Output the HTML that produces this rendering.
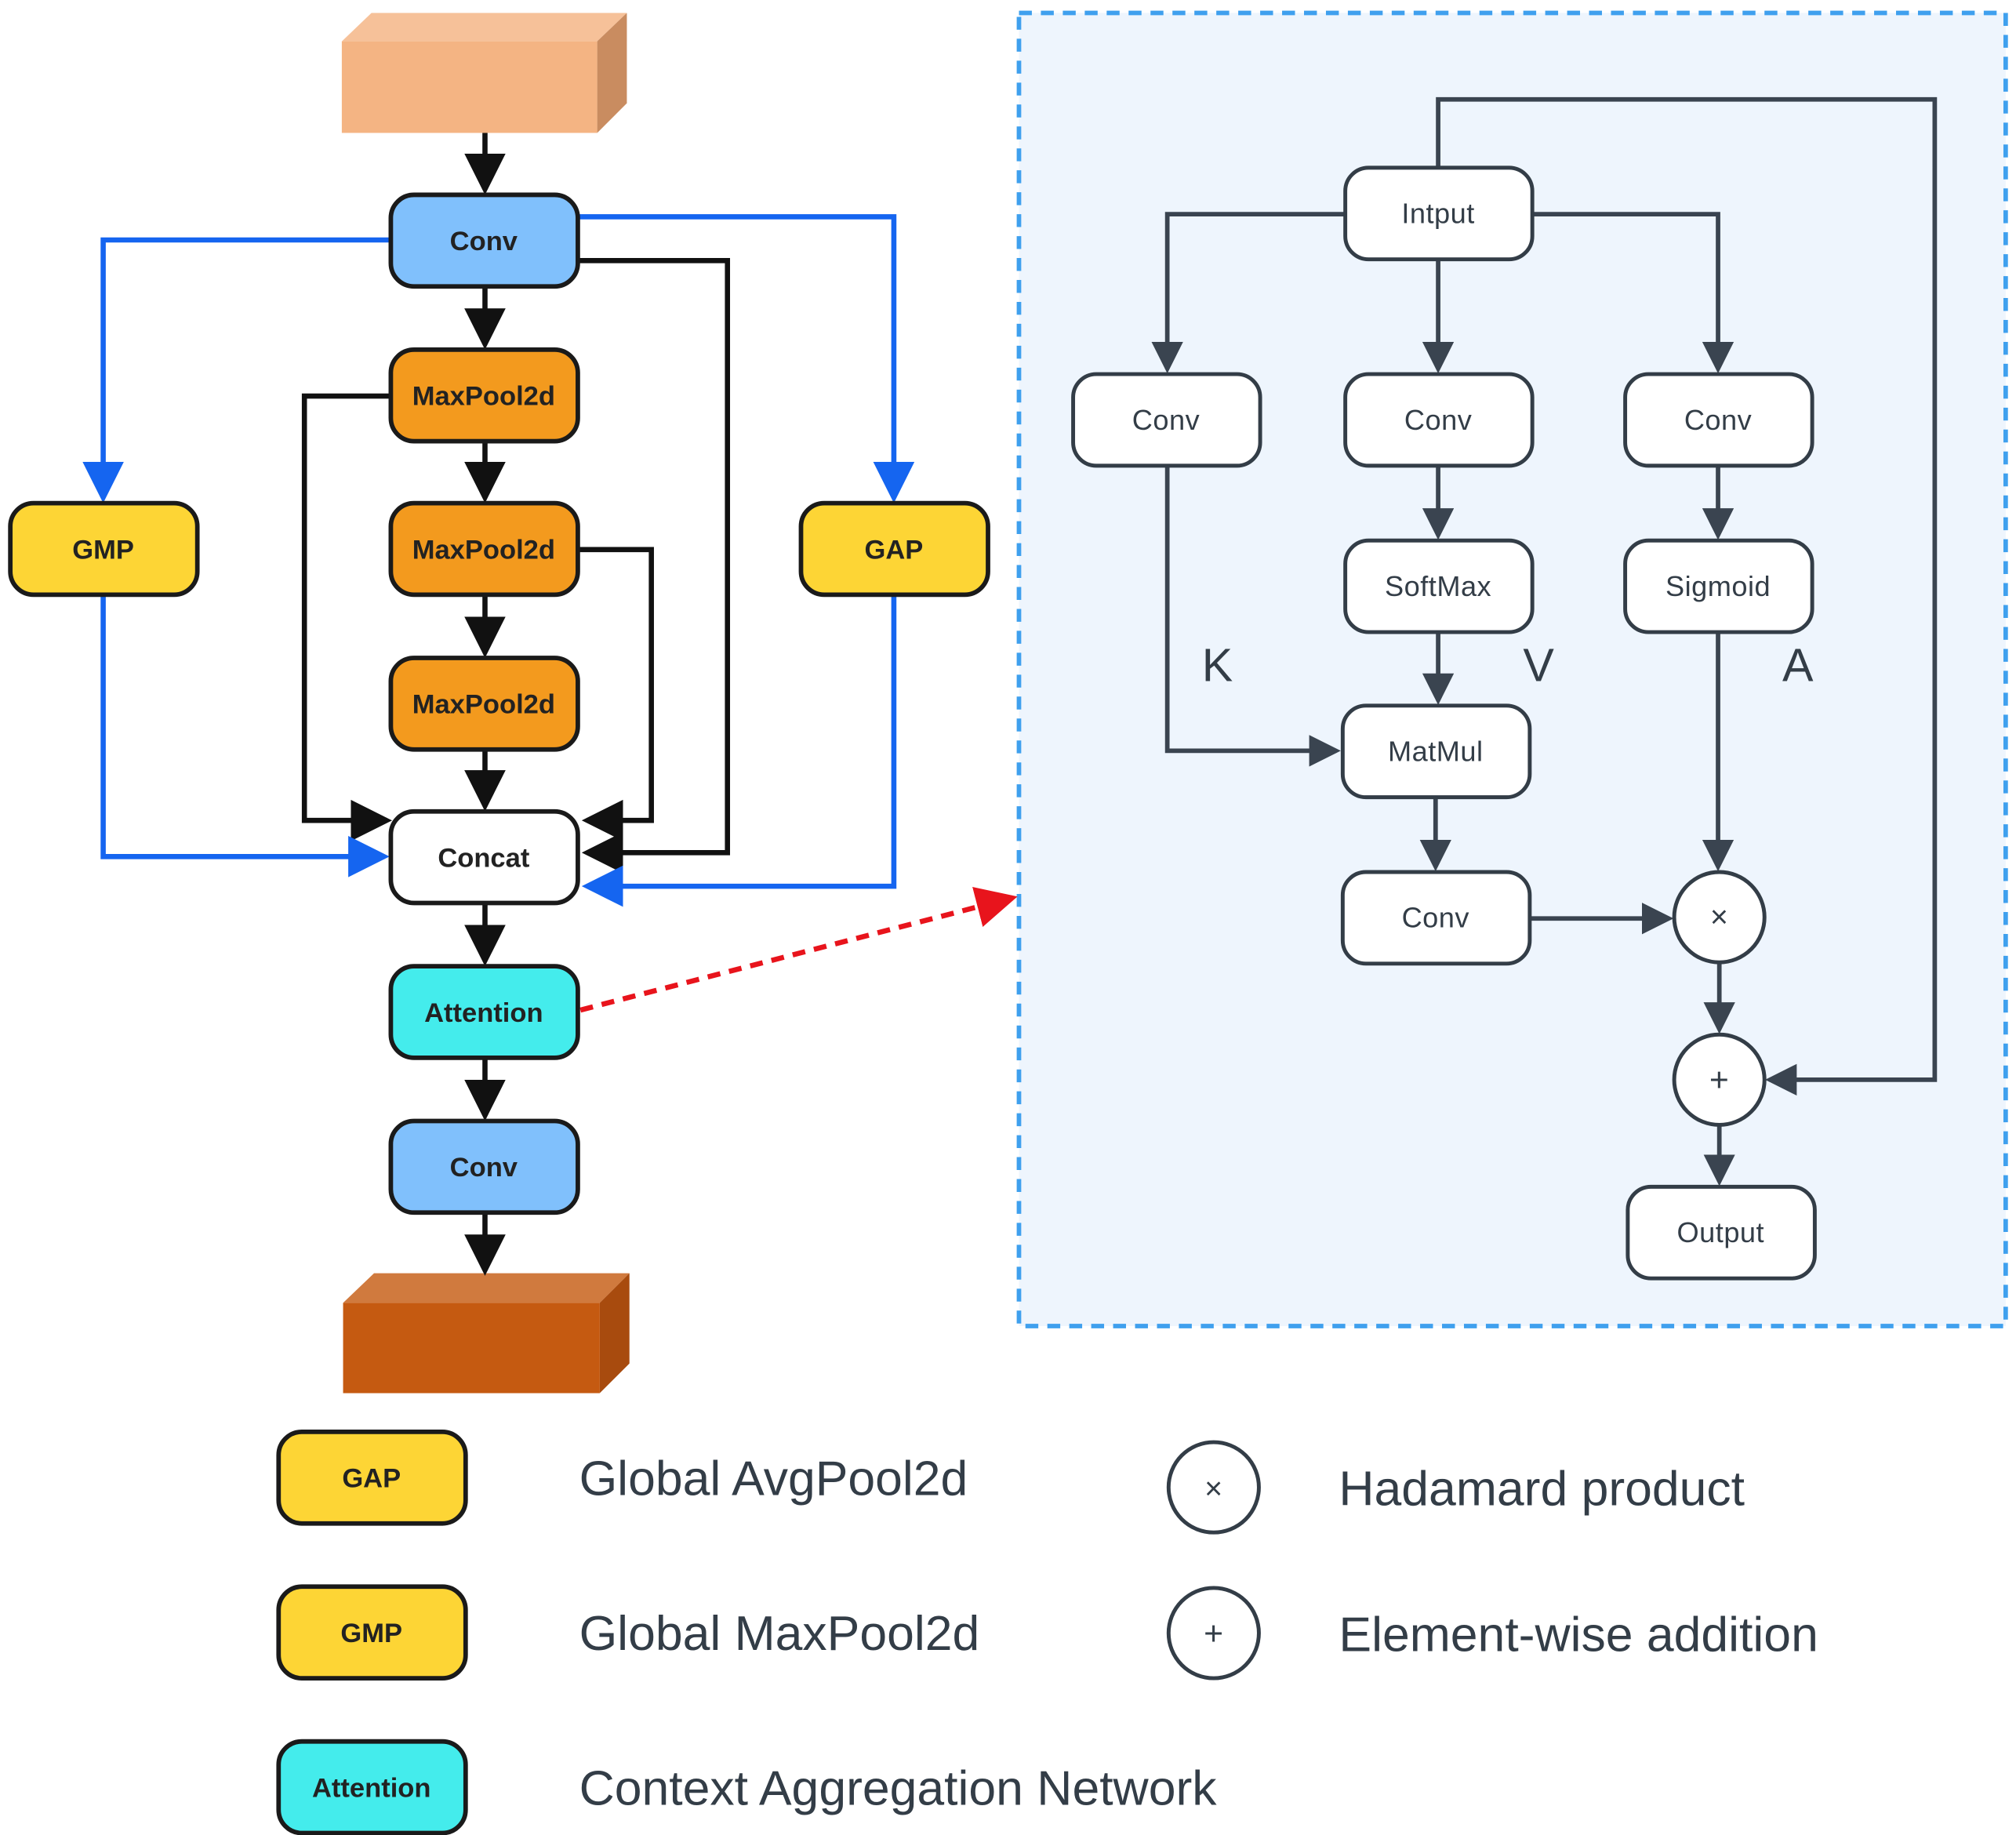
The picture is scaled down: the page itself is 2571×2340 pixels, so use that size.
<!DOCTYPE html>
<html><head><meta charset="utf-8"><style>
html,body{margin:0;padding:0;background:#fff;}
svg{display:block;}
text{font-family:"Liberation Sans",sans-serif;}
</style></head><body>
<svg width="2571" height="2340" viewBox="0 0 1563 1422.5" xmlns="http://www.w3.org/2000/svg">
<defs>
<marker id="ak" markerWidth="8" markerHeight="8" refX="7" refY="4" orient="auto" markerUnits="strokeWidth"><path d="M0,0 L8,4 L0,8 z" fill="#111"/></marker>
<marker id="ab" markerWidth="8" markerHeight="8" refX="7" refY="4" orient="auto" markerUnits="strokeWidth"><path d="M0,0 L8,4 L0,8 z" fill="#1565f0"/></marker>
<marker id="ag" markerWidth="7" markerHeight="7" refX="6" refY="3.5" orient="auto" markerUnits="strokeWidth"><path d="M0,0 L7,3.5 L0,7 z" fill="#3a4450"/></marker>
<marker id="ar" markerWidth="8" markerHeight="8" refX="7" refY="4" orient="auto" markerUnits="strokeWidth"><path d="M0,0 L8,4 L0,8 z" fill="#e8141c"/></marker>
</defs>

<rect x="790" y="10" width="765" height="1018" fill="#eef5fd" stroke="#3fa0ee" stroke-width="3.5" stroke-dasharray="10,7"/>

<polygon points="265,32 288,10 486,10 463,32" fill="#f6c199"/>
<polygon points="463,32 486,10 486,80 463,103" fill="#c98c60"/>
<rect x="265" y="32" width="198" height="71" fill="#f4b483"/>
<polygon points="266,1010 290,987 488,987 465,1010" fill="#d07a3e"/>
<polygon points="465,1010 488,987 488,1057 465,1080" fill="#a84b0e"/>
<rect x="266" y="1010" width="199" height="70" fill="#c55a11"/>

<g fill="none" stroke-width="4">
<g stroke="#111" marker-end="url(#ak)">
<line x1="376" y1="103" x2="376" y2="147"/>
<line x1="376" y1="222" x2="376" y2="267"/>
<line x1="376" y1="342" x2="376" y2="386"/>
<line x1="376" y1="461" x2="376" y2="506"/>
<line x1="376" y1="581" x2="376" y2="625"/>
<line x1="376" y1="700" x2="376" y2="745"/>
<line x1="376" y1="820" x2="376" y2="865"/>
<line x1="376" y1="940" x2="376" y2="985"/>
<polyline points="448,202 564,202 564,661 455,661"/>
<polyline points="303,307 236,307 236,636 300,636"/>
<polyline points="448,426 505,426 505,636 455,636"/>
</g>
<g stroke="#1565f0" marker-end="url(#ab)">
<polyline points="303,186 80,186 80,386"/>
<polyline points="80,461 80,664 298,664"/>
<polyline points="448,168 693,168 693,386"/>
<polyline points="693,461 693,687 455,687"/>
</g>
<line x1="450" y1="783" x2="785" y2="696" stroke="#e8141c" stroke-dasharray="10,7" marker-end="url(#ar)"/>
</g>

<g fill="none" stroke="#3a4450" stroke-width="3.5" marker-end="url(#ag)">
<polyline points="1115,130 1115,77 1500,77 1500,837 1372,837"/>
<polyline points="1043,166 905,166 905,286"/>
<polyline points="1188,166 1332,166 1332,286"/>
<line x1="1115" y1="201" x2="1115" y2="286"/>
<line x1="1115" y1="361" x2="1115" y2="415"/>
<line x1="1115" y1="490" x2="1115" y2="543"/>
<polyline points="905,361 905,582 1036,582"/>
<line x1="1332" y1="361" x2="1332" y2="415"/>
<line x1="1332" y1="490" x2="1332" y2="672"/>
<line x1="1113" y1="618" x2="1113" y2="672"/>
<line x1="1186" y1="712" x2="1294" y2="712"/>
<line x1="1333" y1="746" x2="1333" y2="798"/>
<line x1="1333" y1="872" x2="1333" y2="916"/>
</g>

<g stroke="#1a1a1a" stroke-width="3.5">
<rect x="303" y="151" width="145" height="71" rx="18" fill="#80c0fc"/>
<rect x="303" y="271" width="145" height="71" rx="18" fill="#f39a1e"/>
<rect x="303" y="390" width="145" height="71" rx="18" fill="#f39a1e"/>
<rect x="303" y="510" width="145" height="71" rx="18" fill="#f39a1e"/>
<rect x="303" y="629" width="145" height="71" rx="18" fill="#fff"/>
<rect x="303" y="749" width="145" height="71" rx="18" fill="#44ecec"/>
<rect x="303" y="869" width="145" height="71" rx="18" fill="#80c0fc"/>
<rect x="8" y="390" width="145" height="71" rx="18" fill="#fdd535"/>
<rect x="621" y="390" width="145" height="71" rx="18" fill="#fdd535"/>
<rect x="216" y="1110" width="145" height="71" rx="18" fill="#fdd535"/>
<rect x="216" y="1230" width="145" height="71" rx="18" fill="#fdd535"/>
<rect x="216" y="1350" width="145" height="71" rx="18" fill="#44ecec"/>
</g>
<g font-size="21" font-weight="bold" text-anchor="middle" fill="#222">
<text x="375" y="194">Conv</text>
<text x="375" y="314">MaxPool2d</text>
<text x="375" y="433">MaxPool2d</text>
<text x="375" y="553">MaxPool2d</text>
<text x="375" y="672">Concat</text>
<text x="375" y="792">Attention</text>
<text x="375" y="912">Conv</text>
<text x="80" y="433">GMP</text>
<text x="693" y="433">GAP</text>
<text x="288" y="1153">GAP</text>
<text x="288" y="1273">GMP</text>
<text x="288" y="1393">Attention</text>
</g>

<g stroke="#333d47" stroke-width="3" fill="#fff">
<rect x="1043" y="130" width="145" height="71" rx="18"/>
<rect x="832" y="290" width="145" height="71" rx="18"/>
<rect x="1043" y="290" width="145" height="71" rx="18"/>
<rect x="1260" y="290" width="145" height="71" rx="18"/>
<rect x="1043" y="419" width="145" height="71" rx="18"/>
<rect x="1260" y="419" width="145" height="71" rx="18"/>
<rect x="1041" y="547" width="145" height="71" rx="18"/>
<rect x="1041" y="676" width="145" height="71" rx="18"/>
<rect x="1262" y="920" width="145" height="71" rx="18"/>
<circle cx="1333" cy="711" r="35"/>
<circle cx="1333" cy="837" r="35"/>
<circle cx="941" cy="1153" r="35"/>
<circle cx="941" cy="1266" r="35"/>
</g>
<g font-size="22" text-anchor="middle" fill="#333d47" letter-spacing="0.3">
<text x="1115" y="173">Intput</text>
<text x="904" y="333">Conv</text>
<text x="1115" y="333">Conv</text>
<text x="1332" y="333">Conv</text>
<text x="1115" y="462">SoftMax</text>
<text x="1332" y="462">Sigmoid</text>
<text x="1113" y="590">MatMul</text>
<text x="1113" y="719">Conv</text>
<text x="1334" y="963">Output</text>
<text x="1333" y="719" font-size="24">×</text>
<text x="1333" y="846" font-size="26">+</text>
<text x="941" y="1162" font-size="24">×</text>
<text x="941" y="1275" font-size="26">+</text>
<text x="944" y="528" font-size="36">K</text>
<text x="1193" y="528" font-size="36">V</text>
<text x="1394" y="528" font-size="36">A</text>
</g>

<g font-size="38" fill="#333d47">
<text x="449" y="1159">Global AvgPool2d</text>
<text x="449" y="1279">Global MaxPool2d</text>
<text x="449" y="1399">Context Aggregation Network</text>
<text x="1038" y="1167">Hadamard product</text>
<text x="1038" y="1280">Element-wise addition</text>
</g>
</svg>
</body></html>
